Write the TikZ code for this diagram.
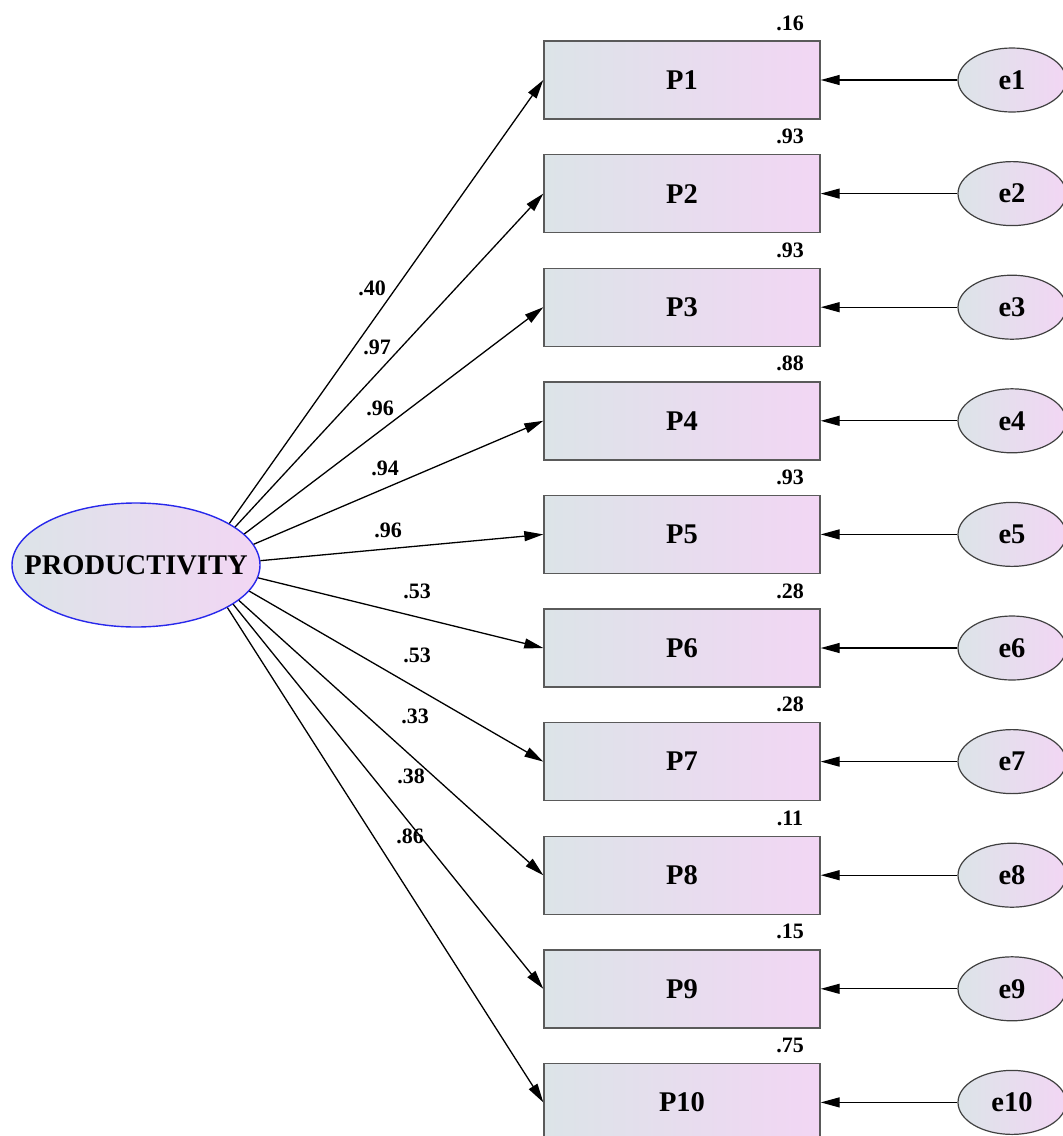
\documentclass[tikz,border=0pt]{standalone}
\usepackage{fontspec}
\setmainfont{Liberation Serif}
\usetikzlibrary{arrows.meta,shapes.geometric}
\definecolor{shadeL}{RGB}{220,228,232}
\definecolor{shadeR}{RGB}{242,214,244}
\definecolor{boxline}{RGB}{90,90,90}
\definecolor{prodblue}{RGB}{40,40,235}
\tikzset{
  obs/.style={draw=boxline, line width=1.4pt, rectangle, minimum width=276pt, minimum height=78pt,
    left color=shadeL, right color=shadeR, font=\fontsize{28.5}{30}\selectfont\bfseries, inner sep=0pt},
  err/.style={draw=black!75, line width=1.2pt, ellipse, minimum width=108pt, minimum height=64pt,
    left color=shadeL, right color=shadeR, font=\fontsize{28.5}{30}\selectfont\bfseries, inner sep=0pt},
  lat/.style={draw=prodblue, line width=1.4pt, ellipse, minimum width=248pt, minimum height=124pt,
    inner xsep=-26pt, inner ysep=0pt,
    left color=shadeL, right color=shadeR, font=\fontsize{28.5}{30}\selectfont\bfseries},
  num/.style={font=\fontsize{22}{24}\selectfont\bfseries, inner sep=0pt},
  path/.style={line width=1.3pt, -{Triangle[length=19pt,width=10pt]}},
}
\begin{document}
\begin{tikzpicture}[x=1pt,y=-1pt]
\useasboundingbox (0,0) rectangle (1063,1136);
\node[lat] (prod) at (136,565) {PRODUCTIVITY};
\foreach \i/\r in {1/.16,2/.93,3/.93,4/.88,5/.93,6/.28,7/.28,8/.11,9/.15,10/.75}{
  \pgfmathsetmacro{\cy}{80+113.6*(\i-1)}
  \pgfmathsetmacro{\ang}{0.42*atan2(565-\cy,304)}
  \node[obs] (P\i) at (682,\cy) {P\i};
  \node[err] (e\i) at (1012,\cy) {e\i};
  \node[num] (r\i) at (790,\cy-57) {\r};
  \draw[path] (e\i) -- (P\i.east);
  \draw[path] (prod.\ang) -- (P\i.west);
}
\node[num] (l1) at (372,288) {.40};
\node[num] (l2) at (377,347) {.97};
\node[num] (l3) at (380,408) {.96};
\node[num] (l4) at (385,468) {.94};
\node[num] (l5) at (388,530) {.96};
\node[num] (l6) at (417,591) {.53};
\node[num] (l7) at (417,655) {.53};
\node[num] (l8) at (415,716) {.33};
\node[num] (l9) at (411,776) {.38};
\node[num] (l10) at (410,836) {.86};
\end{tikzpicture}
\end{document}
